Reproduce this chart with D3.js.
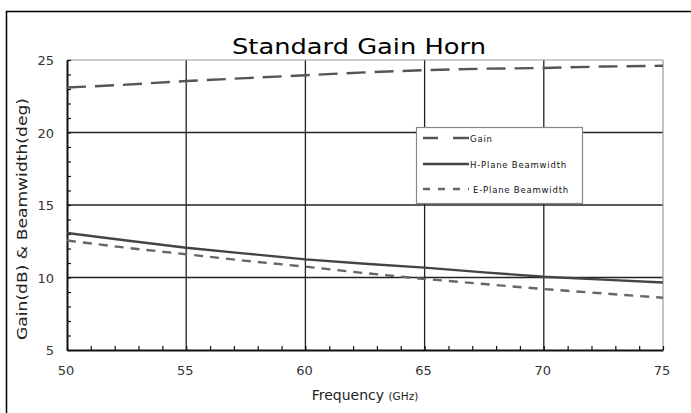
<!DOCTYPE html>
<html><head><meta charset="utf-8">
<script src="https://cdn.jsdelivr.net/npm/d3@7"></script>
<style>body{margin:0;background:#fff}svg{display:block}</style>
</head><body>
<script>
const freq = [50, 52.5, 55, 57.5, 60, 62.5, 65, 67.5, 70, 72.5, 75];
const gain = [23.1, 23.3, 23.55, 23.75, 23.95, 24.15, 24.3, 24.4, 24.45, 24.55, 24.6];
const hPlane = [13.07, 12.55, 12.05, 11.65, 11.25, 10.95, 10.68, 10.35, 10.05, 9.85, 9.66];
const ePlane = [12.55, 12.05, 11.6, 11.15, 10.75, 10.3, 9.9, 9.55, 9.2, 8.9, 8.6];
const xTicks = [50, 55, 60, 65, 70, 75];
const yTicks = [5, 10, 15, 20, 25];
const seriesNames = ["Gain", "H-Plane Beamwidth", "E-Plane Beamwidth"];

const W = 691, H = 413;
const m = {l: 67, r: 28, t: 60, b: 63};
const svg = d3.select("body").append("svg").attr("width", W).attr("height", H);

// outer frame
svg.append("rect").attr("x", 6.5).attr("y", 11.5).attr("width", 720).attr("height", 440)
  .attr("fill", "none").attr("stroke", "#000").attr("stroke-width", 1.5);

const x = d3.scaleLinear().domain([50, 75]).range([m.l, W - m.r]);
const y = d3.scaleLinear().domain([5, 25]).range([H - m.b, m.t]);

const g = svg.append("g");
// grid
g.selectAll(".vg").data(xTicks.slice(1, -1)).join("line")
  .attr("x1", d => x(d)).attr("x2", d => x(d)).attr("y1", y(5)).attr("y2", y(25))
  .attr("stroke", "#222").attr("stroke-width", 1.3);
g.selectAll(".hg").data(yTicks.slice(1, -1)).join("line")
  .attr("y1", d => y(d)).attr("y2", d => y(d)).attr("x1", x(50)).attr("x2", x(75))
  .attr("stroke", "#222").attr("stroke-width", 1.3);
// top/right borders
g.append("line").attr("x1", x(50)).attr("x2", x(75)).attr("y1", y(25)).attr("y2", y(25)).attr("stroke", "#999").attr("stroke-width", 1.2);
g.append("line").attr("x1", x(75)).attr("x2", x(75)).attr("y1", y(25)).attr("y2", y(5)).attr("stroke", "#999").attr("stroke-width", 1.2);

// axes
const xAxis = d3.axisBottom(x).tickValues(d3.range(50, 76, 1)).tickSizeInner(-4).tickSizeOuter(0).tickFormat("");
const yAxis = d3.axisLeft(y).tickValues(d3.range(5, 26, 1)).tickSizeInner(-4).tickSizeOuter(0).tickFormat("");
const gx = svg.append("g").attr("transform", `translate(0,${y(5)})`).call(xAxis);
const gy = svg.append("g").attr("transform", `translate(${x(50)},0)`).call(yAxis);
[gx, gy].forEach(a => {
  a.select(".domain").attr("stroke", "#111").attr("stroke-width", 2);
  a.selectAll(".tick line").attr("stroke", "#111").attr("stroke-width", 1.2);
});

// tick labels
svg.selectAll(".xl").data(xTicks).join("text")
  .attr("x", d => x(d) - 1).attr("y", y(5) + 25)
  .attr("text-anchor", "middle").attr("font-family", "DejaVu Sans").attr("font-size", 13).attr("fill", "#333")
  .text(d => d);
svg.selectAll(".yl").data(yTicks).join("text")
  .attr("x", x(50) - 13).attr("y", d => y(d) + 5)
  .attr("text-anchor", "end").attr("font-family", "DejaVu Sans").attr("font-size", 13).attr("fill", "#333")
  .text(d => d);

// title
svg.append("text").attr("x", 359).attr("y", 54).attr("text-anchor", "middle")
  .attr("font-family", "DejaVu Sans").attr("font-size", 22).attr("fill", "#000")
  .attr("textLength", 254).attr("lengthAdjust", "spacingAndGlyphs")
  .text("Standard Gain Horn");

// x title
const xt = svg.append("text").attr("x", 365).attr("y", 400).attr("text-anchor", "middle")
  .attr("font-family", "DejaVu Sans").attr("fill", "#222");
xt.append("tspan").attr("font-size", 14).text("Frequency ");
xt.append("tspan").attr("font-size", 10.5).text("(GHz)");

// y title
svg.append("text").attr("transform", `translate(27,219) rotate(-90)`).attr("text-anchor", "middle")
  .attr("font-family", "DejaVu Sans").attr("font-size", 14).attr("fill", "#222")
  .attr("textLength", 242).attr("lengthAdjust", "spacingAndGlyphs")
  .text("Gain(dB) & Beamwidth(deg)");

// lines
const styles = [
  {data: gain, dash: "19,9", color: "#555", w: 2.4},
  {data: hPlane, dash: null, color: "#444", w: 2.4},
  {data: ePlane, dash: "9,7", color: "#666", w: 2.4}
];
const line = d3.line().x((d, i) => x(freq[i])).y(d => y(d));
styles.forEach(s => {
  svg.append("path").attr("d", line(s.data)).attr("fill", "none")
    .attr("stroke", s.color).attr("stroke-width", s.w)
    .attr("stroke-dasharray", s.dash);
});

// legend
const lg = svg.append("g");
lg.append("rect").attr("x", 416.5).attr("y", 127.5).attr("width", 166).attr("height", 76)
  .attr("fill", "#fff").attr("stroke", "#888").attr("stroke-width", 1.2);
const ly = [138, 164, 189];
styles.forEach((s, i) => {
  lg.append("line").attr("x1", 423).attr("x2", 469).attr("y1", ly[i]).attr("y2", ly[i])
    .attr("stroke", s.color).attr("stroke-width", 2.4)
    .attr("stroke-dasharray", i === 0 ? "15,15,16" : (i === 2 ? "7,8" : null));
  lg.append("text").attr("x", i === 2 ? 473 : 470).attr("y", ly[i] + 3.5)
    .attr("font-family", "DejaVu Sans").attr("font-size", 8.5).attr("fill", "#111")
    .attr("letter-spacing", 0.8)
    .text(seriesNames[i]);
});
</script>
</body></html>
